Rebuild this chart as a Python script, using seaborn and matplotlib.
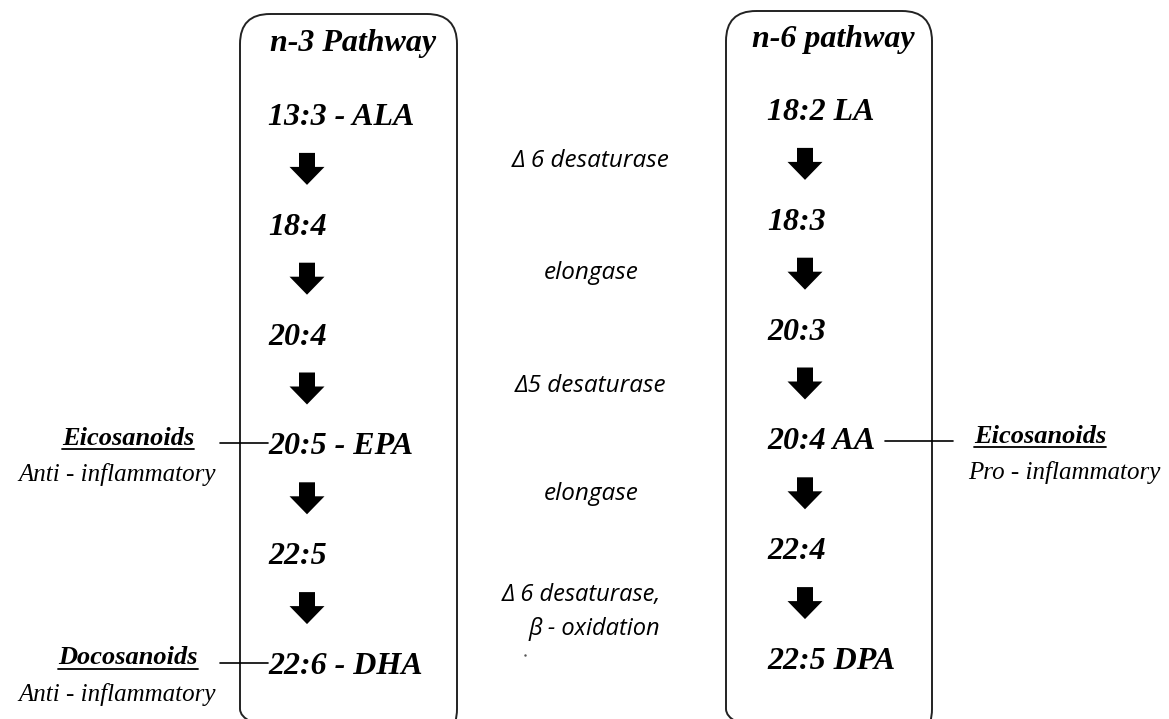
import matplotlib
matplotlib.use("Agg")
import matplotlib.pyplot as plt
import seaborn as sns
from matplotlib.patches import FancyBboxPatch, FancyArrow

# ---- diagram content ----
n3_title = "n-3 Pathway"
n6_title = "n-6 pathway"
n3_steps = ["13:3 - ALA", "18:4", "20:4", "20:5 - EPA", "22:5", "22:6 - DHA"]
n6_steps = ["18:2 LA", "18:3", "20:3", "20:4 AA", "22:4", "22:5 DPA"]
enzymes = ["\u0394 6 desaturase", "elongase", "\u03945 desaturase", "elongase",
           "\u0394 6 desaturase,\n\u03b2 - oxidation"]
side_left = [("Eicosanoids", "Anti - inflammatory", 3),
             ("Docosanoids", "Anti - inflammatory", 5)]
side_right = [("Eicosanoids", "Pro - inflammatory", 3)]

# ---- layout (pixel space) ----
W, H = 1169, 719
left_box = (240, 14, 217)     # x, top, width
right_box = (726, 11, 206)
left_text_x, right_text_x = 268, 767
left_arrow_x, right_arrow_x = 307, 805
left_row0, right_row0, row_step = 114, 109, 109.8

sns.set_theme(style="white")
plt.rcParams["text.color"] = "black"
serif = ["Liberation Serif", "DejaVu Serif"]
sans = ["Open Sans", "DejaVu Sans"]

fig = plt.figure(figsize=(W / 100, H / 100), dpi=100)
ax = fig.add_axes([0, 0, 1, 1])
ax.set_xlim(0, W)
ax.set_ylim(H, 0)
ax.axis("off")


def draw_box(x, top, width):
    box = FancyBboxPatch(
        (x, top), width, H + 20 - top,
        boxstyle="round,pad=0,rounding_size=30",
        facecolor="none", edgecolor="#222222", linewidth=1.4,
    )
    ax.add_patch(box)


def draw_column(steps, title, text_x, arrow_x, row0, title_x, title_y):
    ax.text(title_x, title_y, title, fontsize=23, family=serif,
            weight="bold", style="italic", ha="left", va="center")
    for i, label in enumerate(steps):
        y = row0 + i * row_step
        ax.text(text_x, y + 11, label, fontsize=23, family=serif,
                weight="bold", style="italic", ha="left", va="baseline")
        if i < len(steps) - 1:
            mid = y + row_step / 2
            ax.add_patch(FancyArrow(
                arrow_x, mid - 16, 0, 32, width=16, head_width=35,
                head_length=18, length_includes_head=True,
                color="black", linewidth=0,
            ))


def draw_side(head, sub, y, head_x, sub_x, x0, x1):
    ax.plot([x0, x1], [y, y], color="black", linewidth=1.2)
    t = ax.text(head_x, y - 5, head, fontsize=19, family=serif,
                weight="bold", style="italic", ha="center", va="center")
    ax.text(sub_x, y + 31, sub, fontsize=18, family=serif,
            style="italic", ha="center", va="center")
    fig.canvas.draw()
    bb = t.get_window_extent().transformed(ax.transData.inverted())
    ax.plot([bb.x0, bb.x1], [max(bb.y0, bb.y1) - 1] * 2,
            color="black", linewidth=1.3)


draw_box(*left_box)
draw_box(*right_box)
draw_column(n3_steps, n3_title, left_text_x, left_arrow_x, left_row0, 270, 43)
draw_column(n6_steps, n6_title, right_text_x, right_arrow_x, right_row0, 752, 40)

enz_offsets = [-8, -6, -2, -4, 0]
for i, enz in enumerate(enzymes):
    mid = left_row0 + i * row_step + row_step / 2 + enz_offsets[i]
    if "\n" in enz:
        ax.text(581, mid + 4, enz, fontsize=17, family=sans, style="italic",
                ha="center", va="center", multialignment="right",
                linespacing=1.55)
    else:
        ax.text(591, mid, enz, fontsize=17.5, family=sans, style="italic",
                ha="center", va="center")
ax.plot([525], [655], marker=".", markersize=1.5, color="#555555")

for head, sub, row in side_left:
    y = left_row0 + row * row_step
    draw_side(head, sub, y, 128, 117, 220, left_text_x)
for head, sub, row in side_right:
    y = right_row0 + row * row_step + 3
    draw_side(head, sub, y, 1040, 1064, 885, 953)

fig.savefig("out.png", dpi=100)
